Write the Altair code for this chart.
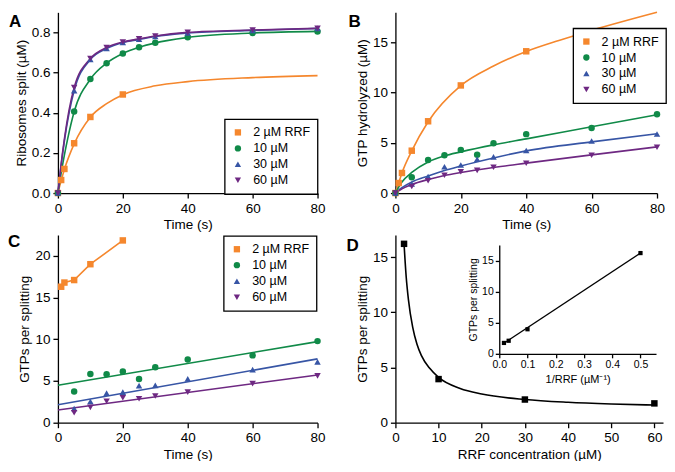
import altair as alt
import pandas as pd

FONT = "Liberation Sans"
SERIES = ["\u00a02 µM RRF\u00a0", "10 µM", "30 µM", "60 µM"]
LINE_KEYS = ["fit2", "fit10", "fit30", "fit60"]
COLORS = ["#F5872D", "#108A48", "#3755A5", "#6E2882"]
SHAPES = ["square", "circle", "triangle-up", "triangle-down"]

# ---------------- Panel A: ribosomes split ----------------
A_T_2 = [0, 1, 2, 5, 10, 20]
A_Y_2 = [0, 0.065, 0.12, 0.248, 0.379, 0.491]
A_T_N = [0, 5, 10, 15, 20, 25, 30, 40, 60, 80]
A_Y_10 = [0, 0.406, 0.568, 0.647, 0.695, 0.726, 0.749, 0.776, 0.797, 0.805]
A_Y_30 = [0, 0.51, 0.665, 0.72, 0.75, 0.766, 0.78, 0.797, 0.81, 0.82]
A_Y_60 = [0, 0.525, 0.67, 0.725, 0.752, 0.768, 0.782, 0.80, 0.812, 0.82]
A_LT_2 = [0, 1, 2, 5, 10, 15, 20, 30, 40, 60, 80]
A_LY_2 = [0, 0.062, 0.118, 0.245, 0.378, 0.445, 0.49, 0.534, 0.555, 0.575, 0.585]
A_LT_10 = [0, 1, 2, 3, 5, 10, 15, 20, 25, 30, 40, 60, 80]
A_LY_10 = [0, 0.10, 0.19, 0.27, 0.405, 0.567, 0.647, 0.695, 0.726, 0.748, 0.775, 0.797, 0.805]
A_LT_N = [0, 1, 2, 5, 10, 15, 20, 25, 30, 40, 60, 80]
A_LY_30 = [0, 0.14, 0.26, 0.51, 0.665, 0.72, 0.75, 0.765, 0.78, 0.797, 0.81, 0.82]
A_LY_60 = [0, 0.145, 0.27, 0.525, 0.67, 0.725, 0.752, 0.768, 0.782, 0.80, 0.812, 0.82]

# ---------------- Panel B: GTP hydrolyzed ----------------
B_T_2 = [0, 1, 2, 5, 10, 20, 40]
B_Y_2 = [0, 1.0, 2.0, 4.22, 7.15, 10.72, 14.12]
B_T_N = [0, 5, 10, 15, 20, 25, 30, 40, 60, 80]
B_Y_10 = [0, 1.58, 3.3, 3.76, 4.3, 3.82, 4.97, 5.87, 6.48, 7.85]
B_Y_30 = [0, 0.9, 1.65, 2.62, 2.8, 3.37, 3.6, 4.24, 5.18, 5.88]
B_Y_60 = [0, 0.65, 1.22, 1.77, 2.12, 2.26, 2.57, 2.97, 3.77, 4.57]
B_LT_2 = [0, 1, 2, 5, 10, 20, 30, 40, 50, 60, 80]
B_LY_2 = [0, 1.0, 2.0, 4.2, 7.1, 10.7, 12.65, 14.1, 15.2, 16.2, 18.0]
B_LT_N = [0, 1, 2, 5, 10, 15, 20, 30, 40, 60, 80]
B_LY_10 = [0, 0.6, 1.1, 2.05, 3.1, 3.7, 4.1, 4.8, 5.4, 6.6, 7.8]
B_LY_30 = [0, 0.3, 0.55, 1.1, 1.7, 2.25, 2.7, 3.5, 4.2, 5.1, 5.9]
B_LY_60 = [0, 0.22, 0.42, 0.85, 1.35, 1.75, 2.05, 2.55, 2.98, 3.8, 4.6]

# ---------------- Panel C: GTPs per splitting vs time ----------------
C_T_2 = [1, 2, 5, 10, 20]
C_Y_2 = [16.3, 16.8, 17.1, 19.0, 21.85]
C_T_N = [5, 10, 15, 20, 25, 30, 40, 60, 80]
C_Y_10 = [3.75, 5.85, 5.8, 6.15, 5.25, 6.65, 7.57, 8.07, 9.78]
C_Y_30 = [1.7, 2.54, 3.55, 3.67, 4.44, 4.48, 5.26, 6.36, 7.29]
C_Y_60 = [1.2, 1.84, 2.57, 3.0, 2.88, 3.2, 3.67, 4.68, 5.62]
C_LT_N = [0, 80]
C_LY_10 = [4.5, 9.72]
C_LY_30 = [2.15, 7.65]
C_LY_60 = [1.52, 5.72]

# ---------------- Panel D ----------------
D_X = [2, 10, 30, 60]
D_Y = [16.2, 3.95, 2.1, 1.75]
D_LX = [2, 2.5, 3, 4, 5, 6, 8, 10, 15, 20, 30, 40, 50, 60]
D_LY = [16.2, 13.2, 11.2, 8.65, 7.1, 6.1, 4.9, 4.1, 3.1, 2.6, 2.1, 1.85, 1.7, 1.6]
IN_X = [0.0167, 0.0333, 0.1, 0.5]
IN_Y = [1.75, 2.1, 3.95, 16.2]
IN_LX = [0.0167, 0.5]
IN_LY = [1.7, 16.2]

# ---------------- tick lists ----------------
TIME_TICKS = [0, 10, 20, 30, 40, 50, 60, 70, 80]
A_Y_TICKS = [0.0, 0.1, 0.2, 0.3, 0.4, 0.5, 0.6, 0.7, 0.8, 0.9]
B_Y_TICKS = [0, 2.5, 5, 7.5, 10, 12.5, 15, 17.5]
C_Y_TICKS = [0, 2.5, 5, 7.5, 10, 12.5, 15, 17.5, 20, 22.5]
D_X_TICKS = [0, 5, 10, 15, 20, 25, 30, 35, 40, 45, 50, 55, 60]
D_Y_TICKS = [0, 2.5, 5, 7.5, 10, 12.5, 15]
IN_X_TICKS = [0, 0.05, 0.1, 0.15, 0.2, 0.25, 0.3, 0.35, 0.4, 0.45, 0.5, 0.55]
IN_Y_TICKS = [0, 2.5, 5, 7.5, 10, 12.5, 15, 17.5]


def frame(names, ts_list, ys_list):
    rows = []
    for n, ts, ys in zip(names, ts_list, ys_list):
        for t, y in zip(ts, ys):
            rows.append({"s": n, "t": t, "v": y})
    return pd.DataFrame(rows)


def make_axis(title, values, test, fmt, major=5, minor=3, label_size=13.5,
              title_size=13.5, **kw):
    return alt.Axis(
        title=title, values=values, format=fmt,
        labelExpr=f"({test}) ? datum.label : ''",
        tickSize={"condition": {"test": test, "value": major}, "value": minor},
        labelFontSize={"condition": {"test": test, "value": label_size}, "value": 0},
        titleFontSize=title_size,
        labelOverlap=False, labelFlush=False, grid=False, **kw)


def letter_layer(letter, lx, ly):
    return alt.Chart(pd.DataFrame({"lab": [letter]})).mark_text(
        align="left", baseline="alphabetic", fontSize=17, fontWeight="bold",
        font=FONT, color="black"
    ).encode(text="lab:N", x=alt.value(lx), y=alt.value(ly))


def kinetics_panel(pts_df, line_df, ydom, yvals, ytest, yfmt, ytitle,
                   letter, lxy, leg_xy, w, h, interp):
    xs = alt.Scale(domain=[0, 80], nice=False)
    ys = alt.Scale(domain=ydom, nice=False)
    xa = make_axis("Time (s)", TIME_TICKS, "datum.value % 20 === 0", "d",
                   titlePadding=3)
    ya = make_axis(ytitle, yvals, ytest, yfmt, titlePadding=3)
    lines = alt.Chart(line_df).mark_line(strokeWidth=1.6, interpolate=interp).encode(
        x=alt.X("t:Q", scale=xs, axis=xa),
        y=alt.Y("v:Q", scale=ys, axis=ya),
        stroke=alt.Stroke("s:N", scale=alt.Scale(domain=LINE_KEYS, range=COLORS),
                          legend=None),
    )
    leg = alt.Legend(title=None, orient="none", legendX=leg_xy[0],
                     legendY=leg_xy[1], strokeColor="black", fillColor="white",
                     padding=7, rowPadding=3, labelOffset=9, symbolSize=40,
                     labelFontSize=12.5, labelFont=FONT, labelColor="black")
    pts = alt.Chart(pts_df).mark_point(filled=True, opacity=1, size=42,
                                       strokeWidth=0).encode(
        x=alt.X("t:Q", scale=xs),
        y=alt.Y("v:Q", scale=ys),
        color=alt.Color("s:N", scale=alt.Scale(domain=SERIES, range=COLORS),
                        legend=leg),
        shape=alt.Shape("s:N", scale=alt.Scale(domain=SERIES, range=SHAPES),
                        legend=leg),
    )
    return alt.layer(lines, pts, letter_layer(letter, *lxy)).properties(
        width=w, height=h)


H1, H2 = 181, 188

# Panel A
A = kinetics_panel(
    frame(SERIES, [A_T_2, A_T_N, A_T_N, A_T_N], [A_Y_2, A_Y_10, A_Y_30, A_Y_60]),
    frame(LINE_KEYS, [A_LT_2, A_LT_10, A_LT_N, A_LT_N], [A_LY_2, A_LY_10, A_LY_30, A_LY_60]),
    [0, 0.9], A_Y_TICKS, "round(datum.value*10) % 2 === 0", ".1f",
    "Ribosomes split (µM)", "A", (-49, 15), (167, H1 - 74), 260, H1, "monotone")

# Panel B
B = kinetics_panel(
    frame(SERIES, [B_T_2, B_T_N, B_T_N, B_T_N], [B_Y_2, B_Y_10, B_Y_30, B_Y_60]),
    frame(LINE_KEYS, [B_LT_2, B_LT_N, B_LT_N, B_LT_N], [B_LY_2, B_LY_10, B_LY_30, B_LY_60]),
    [0, 18], B_Y_TICKS, "datum.value % 5 === 0", "d",
    "GTP hydrolyzed (µM)", "B", (-47, 15), (178, 16), 262, H1, "monotone")

# Panel C
C = kinetics_panel(
    frame(SERIES, [C_T_2, C_T_N, C_T_N, C_T_N], [C_Y_2, C_Y_10, C_Y_30, C_Y_60]),
    frame(LINE_KEYS, [C_T_2, C_LT_N, C_LT_N, C_LT_N], [C_Y_2, C_LY_10, C_LY_30, C_LY_60]),
    [0, 22.5], C_Y_TICKS, "datum.value % 5 === 0", "d",
    "GTPs per splitting", "C", (-50, 12), (166, 1), 260, H2, "linear")

# Panel D
DW, DH = 268, H2
d_pts_df = pd.DataFrame({"x": D_X, "y": D_Y})
d_line_df = pd.DataFrame({"x": D_LX, "y": D_LY})
dxs = alt.Scale(domain=[0, 62], nice=False)
dys = alt.Scale(domain=[0, 17], nice=False)
d_line = alt.Chart(d_line_df).mark_line(color="black", strokeWidth=1.6,
                                        interpolate="monotone").encode(
    x=alt.X("x:Q", scale=dxs,
            axis=make_axis("RRF concentration (µM)", D_X_TICKS,
                           "datum.value % 10 === 0", "d", orient="bottom",
                           titlePadding=3)),
    y=alt.Y("y:Q", scale=dys,
            axis=make_axis("GTPs per splitting", D_Y_TICKS,
                           "datum.value % 5 === 0", "d", orient="left",
                           titlePadding=3)),
)
d_pts = alt.Chart(d_pts_df).mark_point(shape="square", filled=True, opacity=1,
                                       size=42, color="black", strokeWidth=0).encode(
    x=alt.X("x:Q", scale=dxs), y=alt.Y("y:Q", scale=dys))
d_main = alt.layer(d_line, d_pts, letter_layer("D", -49, 16))

in_pts_df = pd.DataFrame({"x": IN_X, "y": IN_Y})
in_line_df = pd.DataFrame({"x": IN_LX, "y": IN_LY})
IN_LEFT, IN_RIGHT = 104, 261
IN_BOTTOM, IN_TOP = round(DH * 0.634), round(DH * 0.051)
ixs = alt.Scale(domain=[0, 0.555], nice=False, range=[IN_LEFT, IN_RIGHT])
iys = alt.Scale(domain=[0, 17.5], nice=False, range=[IN_BOTTOM, IN_TOP])
in_line = alt.Chart(in_line_df).mark_line(color="black", strokeWidth=1.3).encode(
    x=alt.X("x:Q", scale=ixs,
            axis=make_axis("1/RRF (µM\u207b\u00b9)", IN_X_TICKS,
                           "round(datum.value*100) % 10 === 0", ".1f",
                           major=4, minor=2, label_size=10.5, title_size=11,
                           orient="bottom", offset=-(DH - IN_BOTTOM),
                           labelPadding=2, titlePadding=3)),
    y=alt.Y("y:Q", scale=iys,
            axis=make_axis("GTPs per splitting", IN_Y_TICKS,
                           "datum.value % 5 === 0", "d",
                           major=4, minor=2, label_size=10.5, title_size=10.5,
                           orient="left", offset=-IN_LEFT,
                           labelPadding=2, titlePadding=3)),
)
in_pts = alt.Chart(in_pts_df).mark_point(shape="square", filled=True, opacity=1,
                                         size=18, color="black", strokeWidth=0).encode(
    x=alt.X("x:Q", scale=ixs), y=alt.Y("y:Q", scale=iys))
d_inset = alt.layer(in_line, in_pts)

D = alt.layer(d_main, d_inset).resolve_scale(
    x="independent", y="independent").properties(width=DW, height=DH)

chart = alt.concat(
    A, B, C, D, columns=2,
    spacing={"row": 42, "column": 78}, bounds="flush", align="each",
    padding=0,
).resolve_scale(
    color="independent", shape="independent", stroke="independent"
).resolve_legend(
    color="independent", shape="independent"
).configure(
    font=FONT
).configure_axis(
    domainColor="black", tickColor="black", labelColor="black",
    titleColor="black", domainWidth=1.3, tickWidth=1.3,
    labelFont=FONT, titleFont=FONT, titleFontWeight="normal",
    labelPadding=3,
).configure_legend(
    strokeWidth=1.3
).configure_view(stroke=None)

chart.save("out.html", embed_options={"renderer": "svg", "actions": False})
